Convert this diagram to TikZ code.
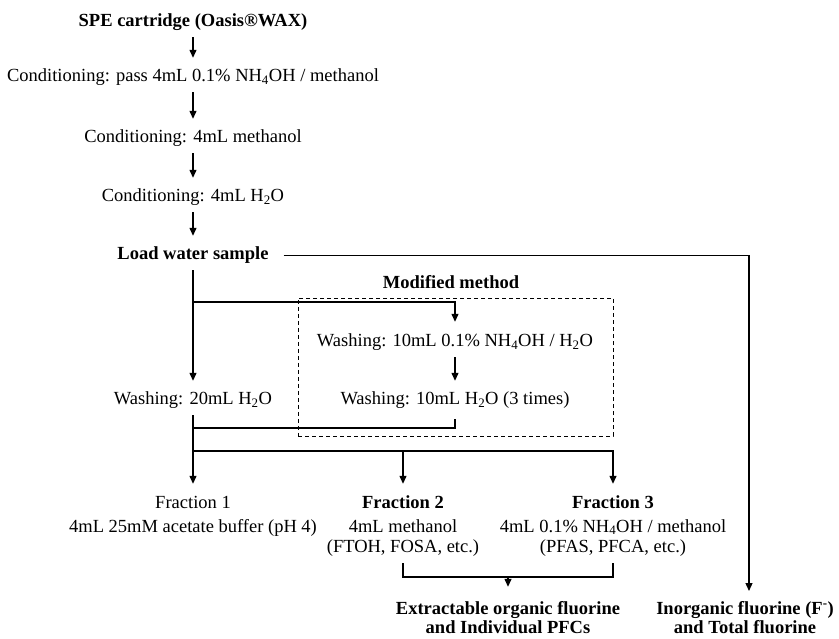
\documentclass[tikz,border=0pt]{standalone}
\usepackage{fontspec}
\setmainfont{Liberation Serif}
\usetikzlibrary{arrows.meta}
\begin{document}
\begin{tikzpicture}[x=1pt,y=-1pt]
\tikzset{
 txt/.style={font=\fontsize{18.5}{20}\selectfont, inner sep=0pt, anchor=base},
 one/.style={txt, text height=13pt, text depth=4pt},
 ln/.style={line width=1.3pt},
 arr/.style={ln, -{Triangle[length=8pt,width=7pt]}},
 vv/.style={arr, shorten <=6pt, shorten >=11pt},
 modbox/.style={draw, dashed, line width=0.9pt, dash pattern=on 4pt off 3pt, inner sep=0pt},
}
\useasboundingbox (0,0) rectangle (839,639);

% left column
\node[one, font=\fontsize{18.5}{20}\selectfont\bfseries] (spe) at (193,27) {SPE cartridge (Oasis®WAX)};
\node[one] (c1) at (193,82) {Conditioning: pass 4mL 0.1\% NH\textsubscript{4}OH / methanol};
\node[one] (c2) at (193,143) {Conditioning: 4mL methanol};
\node[one] (c3) at (193,202) {Conditioning: 4mL H\textsubscript{2}O};
\node[one, font=\fontsize{18.5}{20}\selectfont\bfseries] (load) at (193,260) {Load water sample};
\node[one] (w20) at (193,405) {Washing: 20mL H\textsubscript{2}O};

% modified method
\node[modbox, minimum width=315pt, minimum height=138pt] (box) at (455.5,367) {};
\node[one, font=\fontsize{18.5}{20}\selectfont\bfseries] (modlbl) at (451,289) {Modified method};
\node[one] (wash1) at (455,347) {Washing: 10mL 0.1\% NH\textsubscript{4}OH / H\textsubscript{2}O};
\node[one] (wash2) at (455,405) {Washing: 10mL H\textsubscript{2}O (3 times)};

% fractions
\node[txt] (f1) at (193,508) {\begin{tabular}[t]{@{}c@{}}Fraction 1\\[4pt] 4mL 25mM acetate buffer (pH 4)\end{tabular}};
\node[txt] (f2) at (403,508) {\begin{tabular}[t]{@{}c@{}}\textbf{Fraction 2}\\[4pt] 4mL methanol\\ (FTOH, FOSA, etc.)\end{tabular}};
\node[txt] (f3) at (613,508) {\begin{tabular}[t]{@{}c@{}}\textbf{Fraction 3}\\[4pt] 4mL 0.1\% NH\textsubscript{4}OH / methanol\\ (PFAS, PFCA, etc.)\end{tabular}};
\node[txt, font=\fontsize{18.5}{20}\selectfont\bfseries] (extr) at (508,614) {\begin{tabular}[t]{@{}c@{}}Extractable organic fluorine\\[-1pt] and Individual PFCs\end{tabular}};
\node[txt, font=\fontsize{18.5}{20}\selectfont\bfseries] (inorg) at (745,614) {\begin{tabular}[t]{@{}c@{}}Inorganic fluorine (F\textsuperscript{-})\\[-1pt] and Total fluorine\end{tabular}};

% junctions
\coordinate (j1) at (193,302);
\coordinate (j2) at (193,428);
\coordinate (j3) at (193,451);
\coordinate (bm) at (508,577);
\coordinate (itip) at (749,591);

% connectors
\draw[vv] (spe) -- (c1);
\draw[vv] (c1) -- (c2);
\draw[vv] (c2) -- (c3);
\draw[vv] (c3) -- (load);
\draw[vv] (load) -- (w20);
\draw[arr, shorten >=12pt] (j1) -| (wash1);
\draw[vv] (wash1) -- (wash2);
\draw[ln, shorten <=10pt] (wash2) |- (j2);
\draw[arr, shorten <=6pt, shorten >=10pt] (w20) -- (f1);
\draw[arr, shorten >=10pt] (j3) -| (f2);
\draw[arr, shorten >=10pt] (j3) -| (f3);
\draw[ln, shorten <=5pt, shorten >=5pt] (f2) |- (bm) -| (f3);
\draw[arr, shorten >=13pt] (bm) -- (extr);
\draw[arr, shorten <=15pt] (load.east) -| (itip);
\end{tikzpicture}
\end{document}
